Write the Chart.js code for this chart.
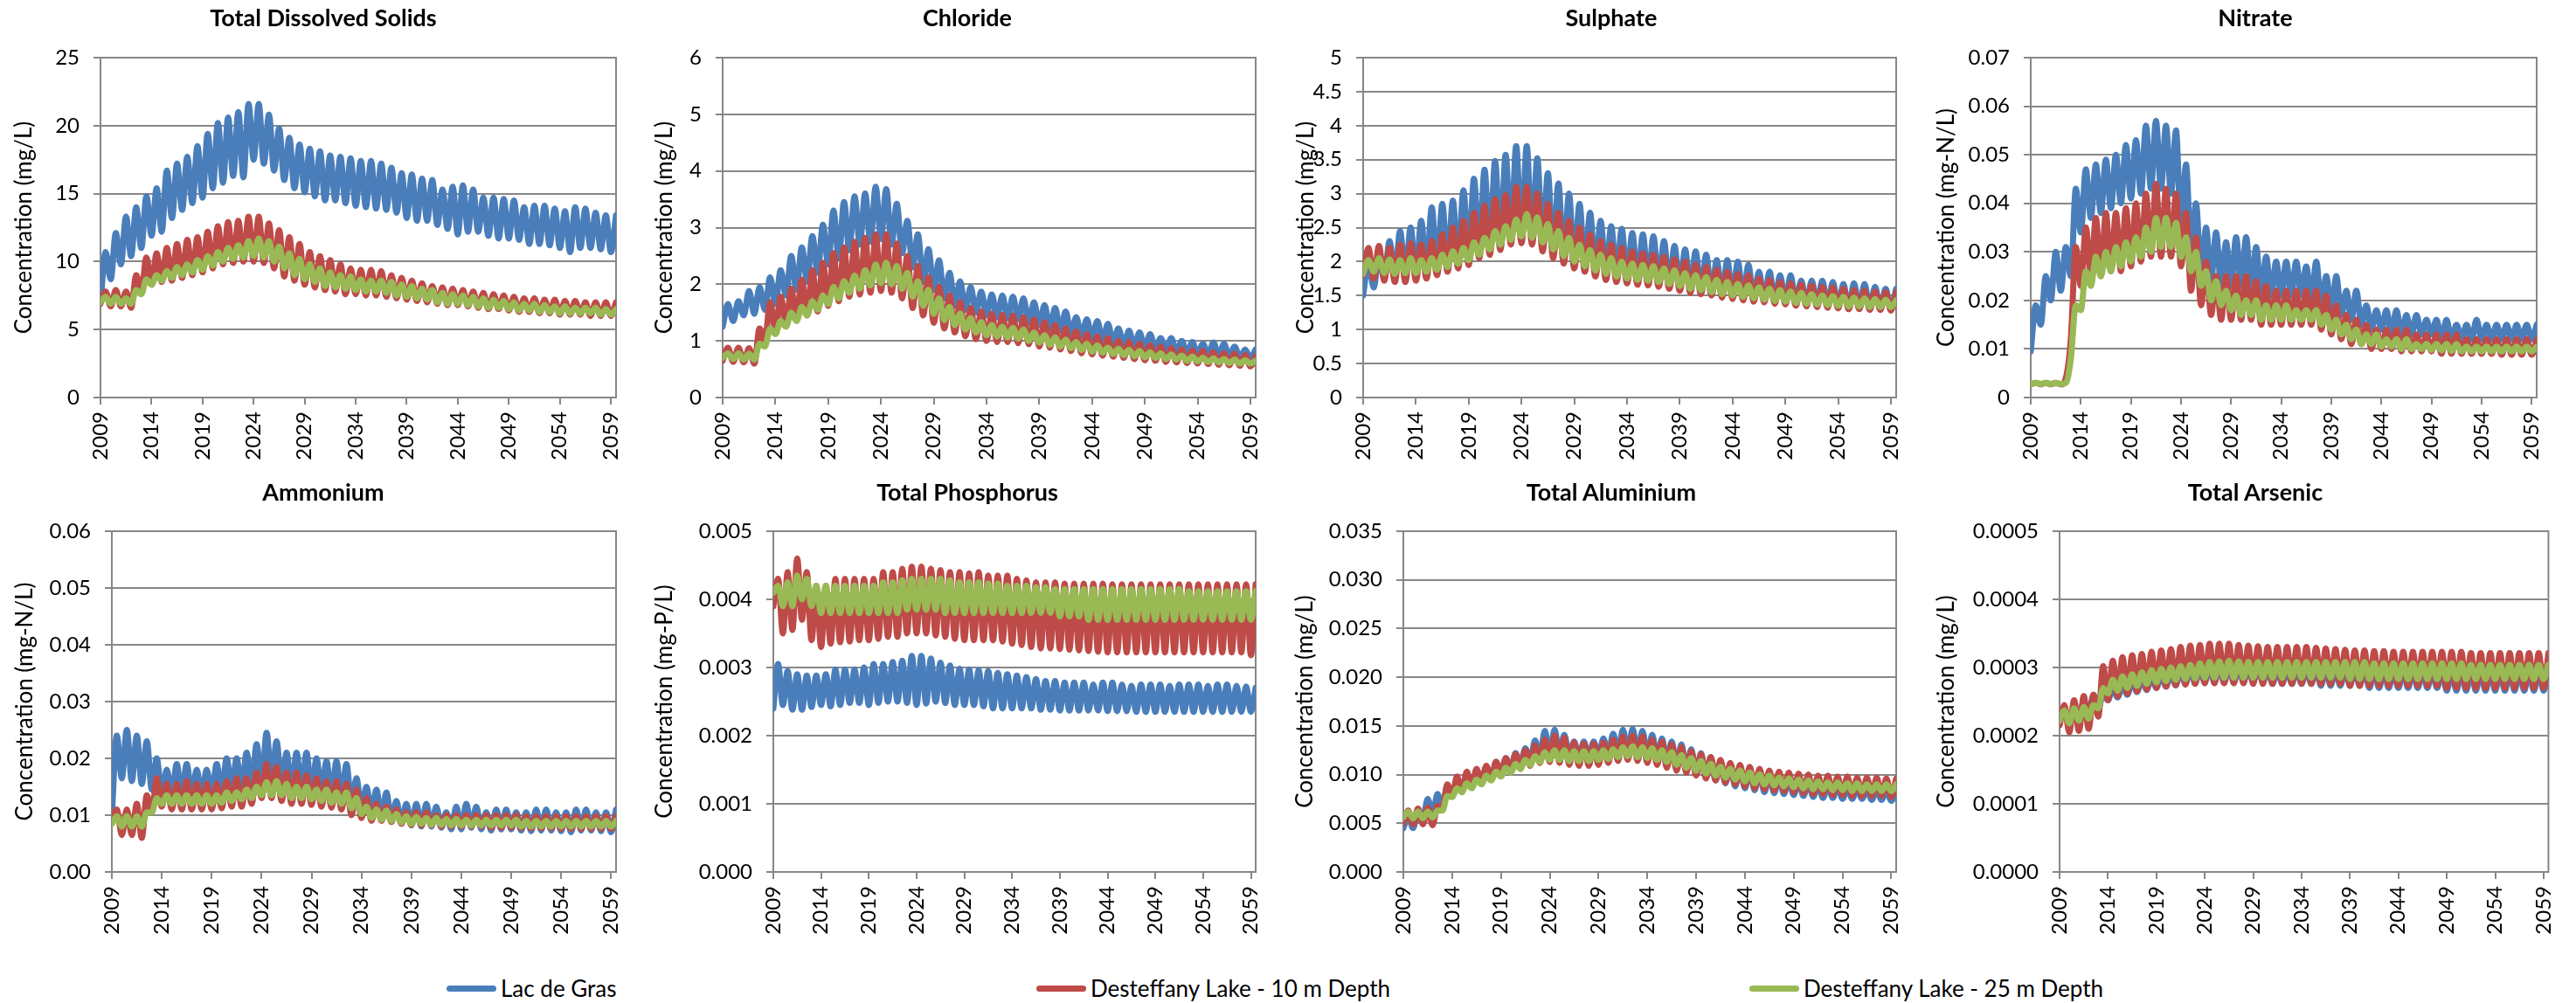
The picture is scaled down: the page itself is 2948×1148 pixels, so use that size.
<!DOCTYPE html>
<html><head><meta charset="utf-8">
<script src="https://cdn.jsdelivr.net/npm/chart.js@4"></script>
<style>
html,body{margin:0;padding:0;background:#fff;}
body{width:2948px;height:1148px;overflow:hidden;position:relative;font-family:Lato,'Liberation Sans',sans-serif;}
canvas{position:absolute;}
.ttl{position:absolute;width:600px;text-align:center;font-weight:bold;font-size:27px;line-height:32px;color:#000;}
.lg{position:absolute;top:1116px;height:30px;display:flex;align-items:center;font-size:26px;color:#000;white-space:nowrap;}
.sw{width:57px;height:7px;margin-right:5px;border-radius:3.5px;}
</style></head><body>
<script>
// ---------- categories ----------
const years = [2009,2010,2011,2012,2013,2014,2015,2016,2017,2018,2019,2020,2021,2022,2023,2024,2025,2026,2027,2028,2029,2030,2031,2032,2033,2034,2035,2036,2037,2038,2039,2040,2041,2042,2043,2044,2045,2046,2047,2048,2049,2050,2051,2052,2053,2054,2055,2056,2057,2058,2059];
const yearTickLabels = ['2009','2014','2019','2024','2029','2034','2039','2044','2049','2054','2059'];
const seriesNames = ['Lac de Gras','Desteffany Lake - 10 m Depth','Desteffany Lake - 25 m Depth'];

// ---------- tick labels ----------
const tdsTicks = ['0','5','10','15','20','25'];
const clTicks = ['0','1','2','3','4','5','6'];
const so4Ticks = ['0','0.5','1','1.5','2','2.5','3','3.5','4','4.5','5'];
const no3Ticks = ['0','0.01','0.02','0.03','0.04','0.05','0.06','0.07'];
const nh4Ticks = ['0.00','0.01','0.02','0.03','0.04','0.05','0.06'];
const tpTicks = ['0.000','0.001','0.002','0.003','0.004','0.005'];
const alTicks = ['0.000','0.005','0.010','0.015','0.020','0.025','0.030','0.035'];
const asTicks = ['0.0000','0.0001','0.0002','0.0003','0.0004','0.0005'];

// ---------- yearly seasonal highs (Hi) and lows (Lo) ----------
// Total Dissolved Solids
const tdsLacHi = [10.7,12.1,13.3,14.0,14.8,15.4,16.7,17.2,17.7,18.5,19.4,20.2,20.6,21.0,21.6,21.6,20.8,19.8,19.1,18.6,18.3,18.1,17.8,17.7,17.6,17.4,17.4,17.2,16.9,16.5,16.4,16.1,16.0,15.3,15.5,15.6,15.3,14.7,14.7,14.6,14.5,14.0,14.1,14.1,13.9,13.7,14.0,13.9,13.6,13.4,13.4];
const tdsLacLo = [7.0,8.7,9.8,10.4,11.0,11.9,12.2,13.2,13.8,14.3,14.7,15.4,15.8,16.3,16.2,17.5,17.2,16.7,16.0,15.4,15.1,14.8,14.5,14.5,14.3,14.1,14.0,13.9,13.8,13.6,13.2,13.0,13.0,12.7,12.4,12.0,12.2,12.2,11.9,11.7,11.7,11.6,11.3,11.3,11.2,11.0,10.7,11.0,11.0,10.9,10.7];
const tdsD10Hi = [7.8,7.9,7.8,9.0,10.3,10.6,11.0,11.3,11.6,11.8,12.2,12.6,12.9,13.0,13.3,13.3,12.8,12.3,11.8,11.3,10.7,10.4,10.1,9.8,9.5,9.4,9.4,9.3,9.0,8.8,8.6,8.4,8.2,8.1,8.0,7.9,7.8,7.7,7.6,7.5,7.4,7.3,7.3,7.2,7.2,7.1,7.1,7.0,7.0,7.0,7.0];
const tdsD10Lo = [6.9,6.7,6.7,6.6,7.8,8.3,8.5,8.6,8.8,9.0,9.2,9.5,9.8,9.9,10.0,10.0,9.9,9.5,8.9,8.6,8.3,8.1,7.9,7.8,7.6,7.6,7.5,7.5,7.4,7.3,7.2,7.1,7.0,6.9,6.8,6.8,6.7,6.6,6.5,6.5,6.4,6.3,6.3,6.2,6.2,6.1,6.1,6.1,6.0,6.0,6.0];
const tdsD25Hi = [7.4,7.4,7.3,7.9,8.7,9.0,9.3,9.6,9.8,10.1,10.4,10.7,11.0,11.2,11.5,11.7,11.5,11.1,10.6,10.2,9.8,9.5,9.2,9.0,8.9,8.7,8.6,8.6,8.5,8.3,8.2,8.0,7.9,7.7,7.6,7.5,7.4,7.3,7.2,7.1,7.0,6.9,6.9,6.8,6.7,6.7,6.6,6.6,6.6,6.5,6.5];
const tdsD25Lo = [7.0,6.9,6.9,6.9,7.6,8.3,8.6,8.8,9.0,9.2,9.4,9.7,10.0,10.2,10.3,10.4,10.3,10.0,9.5,9.0,8.7,8.5,8.2,8.1,8.0,7.9,7.8,7.8,7.7,7.5,7.4,7.3,7.2,7.0,6.9,6.9,6.8,6.7,6.6,6.6,6.5,6.4,6.4,6.3,6.3,6.2,6.2,6.2,6.2,6.1,6.1];
// Chloride
const clLacHi = [1.65,1.7,1.88,1.95,2.12,2.25,2.5,2.65,2.85,3.05,3.3,3.45,3.55,3.6,3.72,3.68,3.42,3.12,2.88,2.62,2.42,2.2,2.05,1.95,1.87,1.82,1.8,1.78,1.75,1.68,1.63,1.58,1.52,1.42,1.38,1.35,1.3,1.22,1.18,1.15,1.12,1.05,1.05,1.0,0.98,0.95,0.97,0.95,0.9,0.85,0.85];
const clLacLo = [1.25,1.35,1.45,1.48,1.55,1.65,1.8,1.9,2.05,2.2,2.35,2.45,2.6,2.7,2.75,2.8,2.7,2.55,2.3,2.05,1.9,1.75,1.62,1.55,1.5,1.45,1.42,1.4,1.38,1.32,1.28,1.22,1.18,1.12,1.08,1.05,1.0,0.97,0.93,0.9,0.88,0.85,0.82,0.8,0.78,0.76,0.75,0.74,0.72,0.7,0.7];
const clD10Hi = [0.88,0.88,0.87,1.22,1.68,1.78,1.92,2.08,2.25,2.38,2.55,2.65,2.75,2.82,2.88,2.88,2.72,2.5,2.32,2.12,1.95,1.8,1.68,1.58,1.52,1.48,1.46,1.45,1.42,1.38,1.33,1.28,1.22,1.17,1.12,1.08,1.05,1.0,0.98,0.95,0.92,0.9,0.87,0.85,0.83,0.82,0.8,0.78,0.77,0.75,0.73];
const clD10Lo = [0.65,0.63,0.62,0.6,1.0,1.2,1.3,1.38,1.45,1.52,1.62,1.7,1.78,1.82,1.85,1.88,1.85,1.75,1.58,1.45,1.32,1.22,1.15,1.08,1.03,1.0,0.98,0.98,0.96,0.94,0.9,0.88,0.85,0.82,0.78,0.76,0.74,0.72,0.7,0.68,0.66,0.65,0.63,0.62,0.61,0.6,0.59,0.58,0.57,0.56,0.55];
const clD25Hi = [0.78,0.78,0.77,0.95,1.22,1.35,1.5,1.6,1.7,1.8,1.95,2.05,2.15,2.25,2.35,2.38,2.32,2.2,2.05,1.9,1.75,1.6,1.48,1.4,1.33,1.28,1.25,1.23,1.2,1.15,1.1,1.06,1.02,0.98,0.95,0.92,0.88,0.86,0.84,0.82,0.8,0.78,0.76,0.74,0.72,0.7,0.69,0.68,0.67,0.66,0.65];
const clD25Lo = [0.7,0.68,0.67,0.67,0.9,1.12,1.25,1.35,1.45,1.55,1.65,1.75,1.85,1.92,1.98,2.02,2.0,1.92,1.78,1.62,1.48,1.37,1.28,1.2,1.15,1.1,1.08,1.06,1.04,1.0,0.97,0.93,0.9,0.87,0.84,0.81,0.79,0.77,0.75,0.73,0.71,0.7,0.68,0.67,0.65,0.64,0.63,0.62,0.61,0.6,0.6];
// Sulphate
const so4LacHi = [2.0,2.1,2.3,2.45,2.5,2.6,2.8,2.85,2.9,3.05,3.22,3.35,3.48,3.57,3.7,3.7,3.52,3.3,3.15,3.0,2.85,2.72,2.6,2.52,2.48,2.42,2.4,2.37,2.3,2.23,2.18,2.15,2.1,2.02,2.02,2.0,1.95,1.85,1.85,1.8,1.8,1.72,1.72,1.72,1.7,1.67,1.68,1.67,1.63,1.6,1.6];
const so4LacLo = [1.5,1.62,1.75,1.78,1.8,1.8,1.85,1.88,1.92,1.98,2.08,2.15,2.2,2.28,2.35,2.35,2.32,2.22,2.1,2.0,1.95,1.9,1.85,1.8,1.78,1.75,1.72,1.7,1.68,1.65,1.6,1.58,1.55,1.52,1.5,1.48,1.47,1.45,1.43,1.42,1.4,1.38,1.37,1.36,1.35,1.33,1.3,1.32,1.31,1.3,1.3];
const so4D10Hi = [2.2,2.23,2.2,2.25,2.27,2.25,2.3,2.4,2.5,2.6,2.72,2.82,2.92,2.98,3.1,3.1,3.0,2.85,2.72,2.6,2.5,2.4,2.3,2.25,2.2,2.15,2.12,2.1,2.07,2.03,2.0,1.95,1.92,1.88,1.85,1.82,1.8,1.75,1.73,1.7,1.68,1.66,1.65,1.63,1.62,1.6,1.58,1.57,1.56,1.55,1.55];
const so4D10Lo = [1.8,1.75,1.72,1.7,1.7,1.72,1.75,1.8,1.85,1.9,1.95,2.05,2.1,2.17,2.25,2.27,2.25,2.15,2.05,1.97,1.9,1.85,1.78,1.73,1.7,1.68,1.66,1.65,1.63,1.6,1.57,1.54,1.52,1.5,1.47,1.45,1.43,1.41,1.4,1.38,1.37,1.35,1.34,1.33,1.32,1.31,1.3,1.3,1.29,1.29,1.28];
const so4D25Hi = [2.02,2.05,2.03,2.02,2.05,2.02,2.05,2.1,2.15,2.2,2.28,2.35,2.45,2.52,2.62,2.7,2.65,2.55,2.45,2.35,2.25,2.17,2.1,2.05,2.0,1.97,1.95,1.93,1.9,1.87,1.83,1.8,1.77,1.73,1.7,1.67,1.65,1.62,1.6,1.58,1.56,1.54,1.52,1.5,1.49,1.48,1.47,1.46,1.45,1.44,1.43];
const so4D25Lo = [1.82,1.85,1.83,1.82,1.83,1.83,1.85,1.88,1.92,1.97,2.02,2.1,2.18,2.25,2.32,2.37,2.35,2.28,2.18,2.08,2.0,1.93,1.87,1.82,1.78,1.75,1.73,1.72,1.7,1.67,1.64,1.6,1.58,1.55,1.52,1.5,1.48,1.46,1.44,1.42,1.41,1.39,1.38,1.37,1.36,1.35,1.34,1.34,1.33,1.33,1.33];
// Nitrate
const no3LacHi = [0.019,0.025,0.03,0.031,0.043,0.047,0.048,0.049,0.05,0.052,0.053,0.056,0.057,0.056,0.055,0.048,0.04,0.035,0.034,0.032,0.033,0.033,0.031,0.029,0.028,0.028,0.028,0.027,0.028,0.025,0.025,0.022,0.022,0.019,0.018,0.018,0.018,0.017,0.017,0.016,0.016,0.016,0.015,0.015,0.016,0.015,0.015,0.015,0.015,0.015,0.015];
const no3LacLo = [0.0095,0.015,0.02,0.022,0.025,0.034,0.037,0.038,0.039,0.04,0.041,0.042,0.043,0.043,0.042,0.035,0.03,0.025,0.024,0.023,0.023,0.023,0.022,0.021,0.021,0.021,0.021,0.021,0.02,0.019,0.018,0.017,0.016,0.015,0.014,0.014,0.013,0.013,0.013,0.013,0.013,0.012,0.012,0.012,0.012,0.012,0.012,0.012,0.012,0.012,0.012];
const no3D10Hi = [0.003,0.003,0.003,0.004,0.031,0.035,0.037,0.038,0.038,0.039,0.04,0.042,0.044,0.043,0.042,0.038,0.033,0.028,0.025,0.025,0.025,0.025,0.024,0.023,0.022,0.022,0.022,0.022,0.022,0.021,0.019,0.017,0.016,0.015,0.014,0.014,0.014,0.014,0.013,0.013,0.013,0.013,0.013,0.012,0.012,0.012,0.012,0.012,0.012,0.012,0.012];
const no3D10Lo = [0.0027,0.0027,0.0027,0.0027,0.012,0.023,0.025,0.025,0.026,0.026,0.027,0.028,0.029,0.029,0.029,0.027,0.022,0.019,0.017,0.016,0.016,0.016,0.016,0.015,0.015,0.015,0.015,0.015,0.015,0.014,0.013,0.012,0.011,0.011,0.01,0.01,0.01,0.0095,0.0095,0.0095,0.0095,0.009,0.009,0.009,0.009,0.009,0.009,0.0088,0.0088,0.0088,0.0088];
const no3D25Hi = [0.003,0.003,0.003,0.003,0.019,0.026,0.029,0.03,0.031,0.032,0.033,0.035,0.037,0.037,0.036,0.033,0.03,0.026,0.024,0.022,0.021,0.02,0.02,0.019,0.019,0.019,0.018,0.018,0.018,0.017,0.016,0.015,0.014,0.013,0.013,0.012,0.012,0.012,0.011,0.011,0.011,0.011,0.011,0.0105,0.0105,0.0105,0.0105,0.0105,0.0105,0.0105,0.0105];
const no3D25Lo = [0.0028,0.0028,0.0028,0.0028,0.008,0.018,0.023,0.025,0.026,0.027,0.028,0.029,0.03,0.031,0.031,0.029,0.026,0.023,0.02,0.019,0.018,0.017,0.017,0.016,0.016,0.016,0.016,0.016,0.016,0.015,0.014,0.013,0.012,0.011,0.011,0.0105,0.0105,0.01,0.01,0.01,0.0098,0.0097,0.0096,0.0095,0.0095,0.0095,0.0095,0.0095,0.0095,0.0095,0.0095];
// Ammonium
const nh4LacHi = [0.024,0.025,0.024,0.023,0.02,0.018,0.019,0.019,0.018,0.018,0.019,0.02,0.02,0.021,0.0225,0.0245,0.023,0.021,0.021,0.021,0.02,0.0195,0.0195,0.019,0.0165,0.015,0.0145,0.014,0.0125,0.012,0.012,0.012,0.0115,0.0105,0.0115,0.012,0.0115,0.0105,0.011,0.011,0.0105,0.0105,0.011,0.011,0.0105,0.0105,0.011,0.011,0.0105,0.0105,0.011];
const nh4LacLo = [0.01,0.0165,0.016,0.0155,0.0145,0.0135,0.0135,0.0135,0.0135,0.0135,0.0135,0.014,0.0145,0.0145,0.015,0.0155,0.016,0.015,0.0145,0.0145,0.014,0.014,0.0135,0.013,0.012,0.011,0.0105,0.0095,0.009,0.0085,0.0082,0.008,0.008,0.0078,0.0075,0.0075,0.0078,0.0075,0.0073,0.0075,0.0075,0.0073,0.0072,0.0073,0.0073,0.0072,0.007,0.0073,0.0073,0.0072,0.007];
const nh4D10Hi = [0.011,0.011,0.012,0.0135,0.0165,0.0155,0.0155,0.016,0.0155,0.0155,0.0155,0.016,0.0165,0.0165,0.0175,0.019,0.0185,0.0175,0.0175,0.017,0.0165,0.016,0.016,0.0155,0.0145,0.013,0.012,0.0115,0.011,0.0105,0.0105,0.0105,0.01,0.01,0.01,0.01,0.01,0.01,0.01,0.01,0.01,0.0098,0.0098,0.0098,0.0098,0.0098,0.0098,0.0098,0.0098,0.0098,0.0098];
const nh4D10Lo = [0.0095,0.0065,0.0065,0.006,0.0105,0.0115,0.011,0.011,0.011,0.011,0.011,0.0112,0.0115,0.0115,0.012,0.013,0.013,0.0125,0.012,0.012,0.0118,0.0115,0.0113,0.011,0.01,0.0095,0.009,0.009,0.0088,0.0085,0.0083,0.0082,0.0082,0.008,0.008,0.008,0.008,0.008,0.0078,0.0078,0.0078,0.0077,0.0077,0.0077,0.0077,0.0076,0.0076,0.0076,0.0076,0.0076,0.0076];
const nh4D25Hi = [0.0098,0.0098,0.0098,0.0105,0.013,0.0135,0.0135,0.0135,0.0135,0.0135,0.0135,0.014,0.014,0.0145,0.015,0.0158,0.016,0.0155,0.015,0.015,0.0145,0.0145,0.014,0.014,0.013,0.0115,0.011,0.0108,0.0102,0.0098,0.0097,0.0095,0.0095,0.0093,0.0093,0.0092,0.0092,0.0092,0.0092,0.0092,0.0092,0.009,0.009,0.009,0.009,0.009,0.009,0.009,0.009,0.009,0.009];
const nh4D25Lo = [0.0085,0.008,0.008,0.008,0.0105,0.012,0.012,0.012,0.012,0.012,0.012,0.0122,0.0125,0.0128,0.013,0.0135,0.0135,0.0135,0.013,0.013,0.0128,0.0125,0.0122,0.012,0.0112,0.0102,0.0095,0.0092,0.009,0.0087,0.0085,0.0085,0.0083,0.0083,0.0082,0.0082,0.0082,0.0082,0.0082,0.0082,0.0082,0.008,0.008,0.008,0.008,0.008,0.008,0.008,0.008,0.008,0.008];
// Total Phosphorus
const tpLacHi = [0.00305,0.00295,0.0029,0.00288,0.00288,0.0029,0.00297,0.00297,0.00297,0.003,0.00305,0.00305,0.00308,0.0031,0.00317,0.00317,0.00313,0.00307,0.00303,0.00298,0.00297,0.00296,0.00295,0.00292,0.0029,0.00288,0.00286,0.00283,0.0028,0.0028,0.00278,0.00278,0.00278,0.00275,0.00278,0.00278,0.00275,0.00273,0.00275,0.00275,0.00275,0.00273,0.00275,0.00275,0.00275,0.00273,0.00275,0.00275,0.00273,0.00272,0.0027];
const tpLacLo = [0.0024,0.00245,0.00238,0.00238,0.00242,0.00245,0.00243,0.00245,0.00248,0.00248,0.00245,0.00248,0.0025,0.0025,0.00248,0.00245,0.00247,0.0025,0.00248,0.00245,0.00245,0.00245,0.00243,0.0024,0.0024,0.0024,0.0024,0.0024,0.00238,0.00238,0.00237,0.00237,0.00237,0.00237,0.00237,0.00236,0.00236,0.00236,0.00235,0.00235,0.00235,0.00235,0.00235,0.00235,0.00235,0.00235,0.00235,0.00235,0.00235,0.00235,0.00235];
const tpD10Hi = [0.0043,0.0044,0.0046,0.0044,0.0042,0.0042,0.0043,0.0043,0.0043,0.0043,0.0043,0.0044,0.0044,0.00445,0.00448,0.00448,0.00445,0.00443,0.0044,0.0044,0.00438,0.0044,0.00435,0.00435,0.00435,0.0043,0.00428,0.00425,0.00425,0.00425,0.00423,0.00423,0.00423,0.00423,0.00423,0.00422,0.00422,0.00422,0.00422,0.00422,0.00422,0.00422,0.00422,0.00422,0.00422,0.00422,0.00422,0.00422,0.00422,0.00422,0.00422];
const tpD10Lo = [0.0039,0.0035,0.00355,0.0037,0.0034,0.0033,0.00335,0.00337,0.00338,0.0034,0.0034,0.00342,0.00345,0.00345,0.0035,0.0035,0.0035,0.00347,0.00345,0.00342,0.0034,0.0034,0.0034,0.0034,0.00338,0.00335,0.00333,0.0033,0.00328,0.00328,0.00327,0.00326,0.00325,0.00324,0.00323,0.00322,0.00322,0.00322,0.00322,0.00322,0.00322,0.00322,0.00322,0.00322,0.00322,0.00322,0.00322,0.00322,0.00322,0.00322,0.00318];
const tpD25Hi = [0.0042,0.00425,0.00435,0.0043,0.0042,0.0042,0.0042,0.0042,0.0042,0.0042,0.0042,0.00425,0.00425,0.00428,0.0043,0.0043,0.0043,0.0043,0.00428,0.00425,0.00425,0.00425,0.00423,0.00423,0.0042,0.0042,0.0042,0.00418,0.00418,0.00415,0.00415,0.00415,0.00415,0.00415,0.00415,0.00415,0.00415,0.00415,0.00415,0.00415,0.00415,0.00415,0.00415,0.00412,0.00412,0.00412,0.00412,0.00412,0.00412,0.00412,0.00412];
const tpD25Lo = [0.0041,0.0039,0.0039,0.004,0.0039,0.0038,0.0038,0.0038,0.0038,0.0038,0.0038,0.0038,0.0038,0.0038,0.00385,0.00385,0.00385,0.00385,0.0038,0.0038,0.0038,0.0038,0.0038,0.0038,0.0038,0.0038,0.0038,0.0038,0.0038,0.0038,0.00375,0.00375,0.00375,0.0037,0.0037,0.0037,0.0037,0.0037,0.0037,0.0037,0.0037,0.0037,0.0037,0.0037,0.0037,0.0037,0.0037,0.0037,0.0037,0.0037,0.0037];
// Total Aluminium
const alLacHi = [0.0057,0.0062,0.0075,0.008,0.0087,0.0092,0.0098,0.0103,0.0108,0.0113,0.0117,0.0122,0.0127,0.0135,0.0145,0.0146,0.0141,0.0134,0.0134,0.0134,0.0137,0.0142,0.0146,0.0147,0.0145,0.0141,0.0137,0.0134,0.0131,0.0126,0.0122,0.0118,0.0114,0.011,0.0107,0.0104,0.0102,0.0099,0.0097,0.0095,0.0093,0.0092,0.009,0.0089,0.0088,0.0087,0.0086,0.0085,0.0085,0.0084,0.0084];
const alLacLo = [0.0045,0.0045,0.0055,0.0058,0.0065,0.0078,0.0083,0.0088,0.0093,0.0097,0.0102,0.0106,0.011,0.0114,0.0118,0.012,0.012,0.0118,0.0117,0.0117,0.0118,0.012,0.0122,0.0122,0.012,0.0118,0.0115,0.0112,0.0108,0.0104,0.01,0.0097,0.0094,0.0091,0.0088,0.0086,0.0084,0.0082,0.0081,0.008,0.0079,0.0078,0.0077,0.0076,0.0076,0.0075,0.0075,0.0075,0.0074,0.0074,0.0073];
const alD10Hi = [0.0063,0.0065,0.0066,0.0068,0.009,0.0098,0.0103,0.0106,0.0109,0.0113,0.0117,0.0121,0.0125,0.013,0.0136,0.014,0.0138,0.0133,0.0132,0.0132,0.0133,0.0136,0.0139,0.014,0.0139,0.0136,0.0134,0.0131,0.0128,0.0124,0.0121,0.0118,0.0115,0.0112,0.011,0.0108,0.0106,0.0104,0.0103,0.0102,0.0101,0.01,0.0099,0.0099,0.0098,0.0098,0.0097,0.0097,0.0097,0.0096,0.0096];
const alD10Lo = [0.005,0.0049,0.0049,0.0048,0.0065,0.0078,0.0082,0.0087,0.0091,0.0095,0.0099,0.0103,0.0106,0.0109,0.0112,0.0113,0.0112,0.011,0.0109,0.0109,0.011,0.0112,0.0114,0.0115,0.0114,0.0112,0.011,0.0107,0.0104,0.0102,0.0099,0.0096,0.0094,0.0092,0.009,0.0088,0.0086,0.0085,0.0084,0.0083,0.0082,0.0081,0.008,0.008,0.0079,0.0079,0.0078,0.0078,0.0078,0.0078,0.0077];
const alD25Hi = [0.0062,0.0062,0.0062,0.0063,0.0078,0.0086,0.0091,0.0095,0.0099,0.0103,0.0107,0.0111,0.0115,0.0119,0.0123,0.0125,0.0125,0.0124,0.0124,0.0124,0.0125,0.0126,0.0128,0.0129,0.0128,0.0127,0.0125,0.0123,0.012,0.0117,0.0114,0.0111,0.0108,0.0106,0.0104,0.0102,0.01,0.0099,0.0097,0.0096,0.0095,0.0094,0.0093,0.0092,0.0092,0.0091,0.0091,0.009,0.009,0.009,0.009];
const alD25Lo = [0.0056,0.0055,0.0055,0.0056,0.0063,0.0077,0.0082,0.0086,0.009,0.0094,0.0098,0.0102,0.0106,0.011,0.0113,0.0115,0.0115,0.0114,0.0114,0.0114,0.0115,0.0116,0.0118,0.0119,0.0118,0.0117,0.0115,0.0113,0.011,0.0107,0.0104,0.0101,0.0099,0.0097,0.0095,0.0093,0.0091,0.009,0.0089,0.0088,0.0087,0.0086,0.0085,0.0085,0.0084,0.0084,0.0083,0.0083,0.0083,0.0083,0.0083];
// Total Arsenic
const asLacHi = [0.000235,0.00024,0.00025,0.00026,0.00026,0.00027,0.000275,0.00028,0.000283,0.000286,0.000289,0.000292,0.000295,0.000297,0.000298,0.0003,0.0003,0.0003,0.0003,0.0003,0.0003,0.000298,0.000298,0.000298,0.000298,0.000298,0.000298,0.000298,0.000298,0.000298,0.000298,0.000298,0.000295,0.000295,0.000295,0.000295,0.000295,0.000295,0.000295,0.000295,0.000295,0.000295,0.000295,0.000295,0.000295,0.000295,0.000295,0.000295,0.000295,0.000295,0.000295];
const asLacLo = [0.00023,0.000225,0.000228,0.000232,0.00024,0.000252,0.000256,0.00026,0.000264,0.000267,0.00027,0.000272,0.000274,0.000276,0.000277,0.000278,0.000278,0.000278,0.000278,0.000278,0.000278,0.000278,0.000276,0.000276,0.000276,0.000276,0.000276,0.000273,0.000273,0.000273,0.000273,0.000273,0.00027,0.00027,0.00027,0.00027,0.00027,0.00027,0.00027,0.00027,0.000266,0.000266,0.000266,0.000266,0.000266,0.000266,0.000266,0.000266,0.000266,0.000266,0.000266];
const asD10Hi = [0.000245,0.000252,0.000258,0.00026,0.000302,0.00031,0.000315,0.000318,0.00032,0.000323,0.000325,0.000327,0.00033,0.000332,0.000333,0.000335,0.000335,0.000335,0.000333,0.000332,0.000331,0.00033,0.00033,0.00033,0.00033,0.00033,0.000329,0.000328,0.000327,0.000326,0.000325,0.000325,0.000324,0.000324,0.000323,0.000323,0.000323,0.000323,0.000323,0.000323,0.000323,0.000323,0.000321,0.000321,0.000321,0.000321,0.000321,0.000321,0.000321,0.000321,0.000321];
const asD10Lo = [0.000215,0.000205,0.000207,0.00021,0.000228,0.000252,0.000258,0.000262,0.000265,0.000268,0.00027,0.000272,0.000274,0.000275,0.000276,0.000277,0.000277,0.000277,0.000277,0.000277,0.000276,0.000276,0.000276,0.000276,0.000276,0.000276,0.000276,0.000276,0.000276,0.000276,0.000273,0.000273,0.000273,0.000273,0.000273,0.000273,0.000273,0.000273,0.000273,0.000273,0.00027,0.00027,0.00027,0.00027,0.00027,0.00027,0.00027,0.00027,0.00027,0.00027,0.00027];
const asD25Hi = [0.000237,0.00024,0.000242,0.000245,0.00027,0.000282,0.000287,0.00029,0.000293,0.000296,0.000298,0.0003,0.000302,0.000304,0.000306,0.000308,0.000309,0.00031,0.000309,0.000308,0.000308,0.000308,0.000308,0.000308,0.000308,0.000308,0.000308,0.000308,0.000308,0.000308,0.000308,0.000308,0.000306,0.000306,0.000306,0.000306,0.000306,0.000306,0.000306,0.000306,0.000306,0.000306,0.000304,0.000304,0.000304,0.000304,0.000304,0.000304,0.000304,0.000304,0.000304];
const asD25Lo = [0.000222,0.000218,0.000222,0.000225,0.00024,0.000262,0.000266,0.00027,0.000273,0.000276,0.000278,0.00028,0.000282,0.000283,0.000284,0.000285,0.000285,0.000285,0.000285,0.000285,0.000285,0.000285,0.000285,0.000285,0.000285,0.000285,0.000285,0.000285,0.000285,0.000285,0.000283,0.000283,0.000283,0.000283,0.000283,0.000283,0.000283,0.000283,0.000283,0.000283,0.000283,0.000283,0.000283,0.000283,0.000283,0.000283,0.000283,0.000283,0.000283,0.000283,0.000283];

// ---------- layout / styling ----------
const colors = ['#4A7EBB','#BE4B48','#98B954'];
const GRID = '#878787';
const FONT = 'Lato';
const panels = [
  {title:'Total Dissolved Solids', yTitle:'Concentration (mg/L)', ticks:tdsTicks, s:[[tdsLacHi,tdsLacLo],[tdsD10Hi,tdsD10Lo],[tdsD25Hi,tdsD25Lo]], left:0, top:0, pl:115, pr:705, pt:66, pb:455, tp:12},
  {title:'Chloride', yTitle:'Concentration (mg/L)', ticks:clTicks, s:[[clLacHi,clLacLo],[clD10Hi,clD10Lo],[clD25Hi,clD25Lo]], left:737, top:0, pl:827, pr:1437, pt:66, pb:455, tp:8},
  {title:'Sulphate', yTitle:'Concentration (mg/L)', ticks:so4Ticks, s:[[so4LacHi,so4LacLo],[so4D10Hi,so4D10Lo],[so4D25Hi,so4D25Lo]], left:1474, top:0, pl:1560, pr:2170, pt:66, pb:455, tp:5},
  {title:'Nitrate', yTitle:'Concentration (mg-N/L)', ticks:no3Ticks, s:[[no3LacHi,no3LacLo],[no3D10Hi,no3D10Lo],[no3D25Hi,no3D25Lo]], left:2211, top:0, pl:2324, pr:2903, pt:66, pb:455, tp:1},
  {title:'Ammonium', yTitle:'Concentration (mg-N/L)', ticks:nh4Ticks, s:[[nh4LacHi,nh4LacLo],[nh4D10Hi,nh4D10Lo],[nh4D25Hi,nh4D25Lo]], left:0, top:545, pl:128, pr:705, pt:608, pb:998, tp:13},
  {title:'Total Phosphorus', yTitle:'Concentration (mg-P/L)', ticks:tpTicks, s:[[tpLacHi,tpLacLo],[tpD10Hi,tpD10Lo],[tpD25Hi,tpD25Lo]], left:737, top:545, pl:885, pr:1437, pt:608, pb:998, tp:8},
  {title:'Total Aluminium', yTitle:'Concentration (mg/L)', ticks:alTicks, s:[[alLacHi,alLacLo],[alD10Hi,alD10Lo],[alD25Hi,alD25Lo]], left:1474, top:545, pl:1606, pr:2170, pt:608, pb:998, tp:4},
  {title:'Total Arsenic', yTitle:'Concentration (mg/L)', ticks:asTicks, s:[[asLacHi,asLacLo],[asD10Hi,asD10Lo],[asD25Hi,asD25Lo]], left:2211, top:545, pl:2357, pr:2918, pt:608, pb:998, tp:1}
];

const framePlugin = {
  id:'frame',
  beforeDatasetsDraw(chart){
    const {ctx, chartArea:a} = chart;
    ctx.save(); ctx.strokeStyle = GRID; ctx.lineWidth = 2;
    ctx.strokeRect(a.left, a.top, a.right - a.left, a.bottom - a.top);
    ctx.restore();
  }
};

function buildPanel(p){
  const W = 737, XH = 80;
  const H = p.pb - p.top + XH;
  const cv = document.createElement('canvas');
  cv.width = W; cv.height = H;
  cv.style.left = p.left + 'px'; cv.style.top = p.top + 'px';
  cv.style.width = W + 'px'; cv.style.height = H + 'px';
  document.body.appendChild(cv);

  const t = document.createElement('div');
  t.className = 'ttl'; t.textContent = p.title;
  t.style.left = (p.left + 370 - 300) + 'px';
  t.style.top = (p.top === 0 ? 4 : 547) + 'px';
  document.body.appendChild(t);

  const tickVals = p.ticks.map(Number);
  const datasets = p.s.map((pair, k) => {
    const hi = pair[0], lo = pair[1], pts = [];
    years.forEach((yr, i) => {
      if (lo[i] != null) pts.push({x: yr, y: lo[i]});
      if (hi[i] != null) pts.push({x: yr + 0.5, y: hi[i]});
    });
    return {
      label: seriesNames[k], data: pts, borderColor: colors[k], backgroundColor: colors[k],
      borderWidth: 7, pointRadius: 0, pointHoverRadius: 0, fill: false,
      cubicInterpolationMode: 'monotone', borderJoinStyle: 'round', borderCapStyle: 'round',
      order: 2 - k
    };
  });

  new Chart(cv, {
    type: 'line',
    data: {datasets},
    options: {
      responsive: false, animation: false, devicePixelRatio: 1,
      layout: {padding: {top: p.pt - p.top, right: p.left + W - p.pr, left: 0, bottom: 0}},
      plugins: {legend: {display: false}, tooltip: {enabled: false}},
      scales: {
        x: {
          type: 'linear', min: 2009, max: 2059.5,
          afterBuildTicks: s => { s.ticks = yearTickLabels.map(v => ({value: Number(v)})); },
          afterFit: s => { s.height = XH; },
          ticks: {autoSkip: false, minRotation: 90, maxRotation: 90, padding: 8, color: '#000',
                  font: {family: FONT, size: 24}, callback: (v, i) => yearTickLabels[i]},
          grid: {drawOnChartArea: false, drawTicks: true, tickLength: 8, color: GRID, lineWidth: 2},
          border: {display: true, color: GRID, width: 2}
        },
        y: {
          type: 'linear', min: tickVals[0], max: tickVals[tickVals.length - 1],
          afterBuildTicks: s => { s.ticks = tickVals.map(v => ({value: v})); },
          afterFit: s => { s.width = p.pl - p.left; },
          ticks: {autoSkip: false, padding: 16, color: '#000', font: {family: FONT, size: 24},
                  callback: (v, i) => p.ticks[i]},
          grid: {color: GRID, lineWidth: 2, drawTicks: true, tickLength: 8},
          border: {display: true, color: GRID, width: 2},
          title: {display: true, text: p.yTitle, color: '#000', font: {family: FONT, size: 26},
                  padding: {top: p.tp, bottom: 0}}
        }
      }
    },
    plugins: [framePlugin]
  });
}
panels.forEach(buildPanel);

// legend
const legendPos = [511, 1186, 2002];
seriesNames.forEach((n, k) => {
  const d = document.createElement('div');
  d.className = 'lg'; d.style.left = legendPos[k] + 'px';
  const sw = document.createElement('div'); sw.className = 'sw'; sw.style.background = colors[k];
  const tx = document.createElement('span'); tx.textContent = n;
  d.appendChild(sw); d.appendChild(tx);
  document.body.appendChild(d);
});
</script>
</body></html>
